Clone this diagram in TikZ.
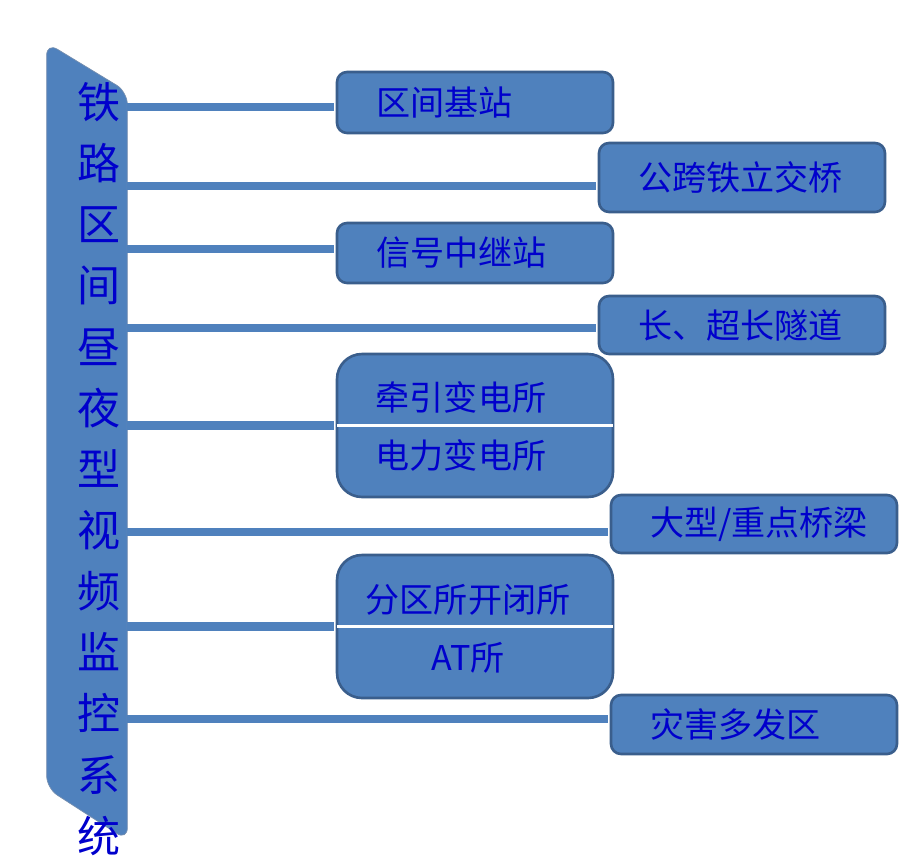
\documentclass[tikz,border=0pt]{standalone}
\usepackage{fontspec}
\newfontfamily\cjk{Noto Sans CJK SC}
\usepackage{tikz}
\usetikzlibrary{calc}
\definecolor{railblue}{HTML}{4F81BD}
\definecolor{railedge}{HTML}{3A5E8C}
\definecolor{railink}{HTML}{0000CC}

\begin{document}
\begin{tikzpicture}[
  x=0.02cm,y=-0.02cm,
  font=\cjk\fontsize{19.4}{24}\selectfont,
  leaf/.style={draw=railedge,fill=railblue,line width=1.5pt,rounded corners=0.2cm,
    text=railink,inner xsep=0.78cm,inner ysep=0pt,align=left},
  pairbox/.style={draw=railedge,fill=railblue,line width=1.5pt,rounded corners=0.5cm,
    minimum width=5.52cm,minimum height=2.86cm,inner sep=0pt},
  pairtext/.style={text=railink,align=center,font=\cjk\fontsize{19.4}{33}\selectfont},
  link/.style={draw=railblue,line width=5pt,shorten >=0.75pt},
  divider/.style={draw=white,line width=1.7pt,shorten <=1pt,shorten >=1pt}
]
\useasboundingbox (0,0) rectangle (899,867);
% left bar
\node[minimum width=1.6cm,minimum height=15.94cm,inner sep=0pt] (bar) at (87,441.5) {};
\fill[railblue,draw=railedge!70,line width=0.4pt,rounded corners=0.25cm]
  (bar.north west) -- ($(bar.north east)+(0,49)$) -- (bar.south east)
  -- ($(bar.south west)+(0,-52)$) -- cycle;
\node[text=railink,align=center,font=\cjk\fontsize{24.5}{34.8}\selectfont] (title) at (99,469)
  {铁\\路\\区\\间\\昼\\夜\\型\\视\\频\\监\\控\\系\\统};
% boxes
\node[leaf,text width=3.96cm,minimum width=5.52cm,minimum height=1.22cm] (b1) at (475,102.5) {区间基站};
\node[leaf,text width=4.16cm,minimum width=5.72cm,minimum height=1.38cm] (b2) at (742,177.5) {公跨铁立交桥};
\node[leaf,text width=3.96cm,minimum width=5.52cm,minimum height=1.20cm] (b3) at (475,253) {信号中继站};
\node[leaf,text width=4.16cm,minimum width=5.72cm,minimum height=1.16cm] (b4) at (742,325) {长、超长隧道};
\node[pairbox] (b5) at (475,425.5) {};
\node[leaf,text width=4.16cm,minimum width=5.72cm,minimum height=1.16cm] (b6) at (754,524) {大型/重点桥梁};
\node[pairbox] (b7) at (475,626.5) {};
\node[leaf,text width=4.16cm,minimum width=5.72cm,minimum height=1.18cm] (b8) at (754,724.5) {灾害多发区};
\draw[divider] (b5.west) -- (b5.east);
\draw[divider] (b7.west) -- (b7.east);
\node[pairtext] (t5) at (461,426) {牵引变电所\\电力变电所};
\node[pairtext] (t7) at (468,628.5) {分区所开闭所\\AT所};
% connectors
\coordinate (j1) at ([yshift=-0.09cm]b1.west);
\coordinate (j2) at ([yshift=-0.17cm]b2.west);
\coordinate (j3) at ([yshift=0.08cm]b3.west);
\coordinate (j4) at ([yshift=-0.06cm]b4.west);
\coordinate (j6) at ([yshift=-0.16cm]b6.west);
\coordinate (j8) at ([yshift=0.11cm]b8.west);
\draw[link] (bar.east |- j1) -- (j1);
\draw[link] (bar.east |- j2) -- (j2);
\draw[link] (bar.east |- j3) -- (j3);
\draw[link] (bar.east |- j4) -- (j4);
\draw[link] (bar.east |- b5.west) -- (b5.west);
\draw[link] (bar.east |- j6) -- (j6);
\draw[link] (bar.east |- b7.west) -- (b7.west);
\draw[link] (bar.east |- j8) -- (j8);
\end{tikzpicture}
\end{document}
